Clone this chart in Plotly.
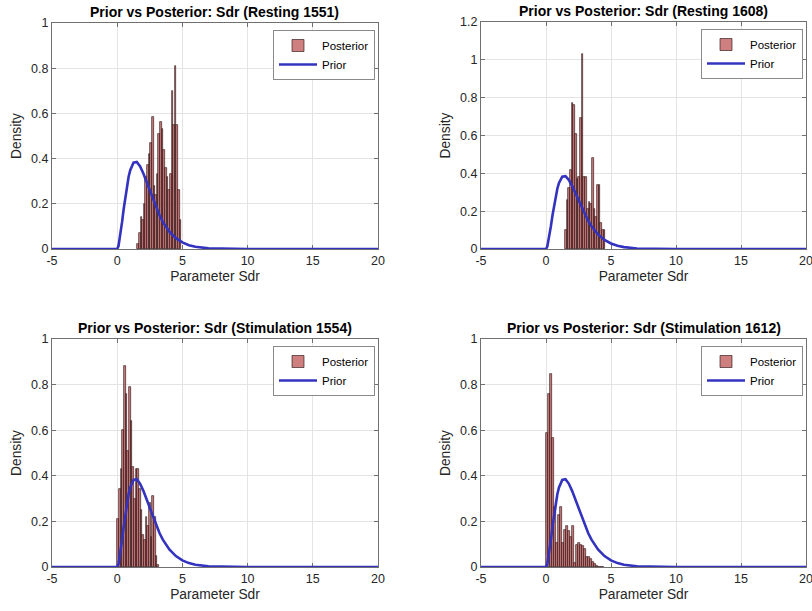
import plotly.graph_objects as go

# ---------------- data ----------------
titles = ["Prior vs Posterior: Sdr (Resting 1551)",
          "Prior vs Posterior: Sdr (Resting 1608)",
          "Prior vs Posterior: Sdr (Stimulation 1554)",
          "Prior vs Posterior: Sdr (Stimulation 1612)"]

# posterior histograms: first bin edge, bin width, bin heights (density)
p1_start, p1_width = 1.54, 0.125
p1_heights = [0.02, 0.07, 0.14, 0.13, 0.20, 0.32, 0.37, 0.42, 0.47, 0.585, 0.28, 0.24, 0.33, 0.51,
              0.56, 0.53, 0.44, 0.36, 0.32, 0.26, 0.33, 0.70, 0.55, 0.81, 0.55, 0.26, 0.13]

p2_start, p2_width = 1.45, 0.13
p2_heights = [0.10, 0.26, 0.32, 0.42, 0.77, 0.76, 0.61, 0.37, 0.38, 0.69, 1.03, 0.38, 0.38, 0.21,
              0.25, 0.24, 0.48, 0.21, 0.17, 0.34, 0.34, 0.14, 0.10, 0.10]

p3_start, p3_width = 0.0, 0.128
p3_heights = [0.21, 0.34, 0.43, 0.60, 0.88, 0.76, 0.51, 0.79, 0.64, 0.44, 0.30, 0.43, 0.43, 0.34,
              0.25, 0.14, 0.12, 0.22, 0.18, 0.28, 0.13, 0.31, 0.22, 0.05, 0.01]

p4_start, p4_width = 0.0, 0.154
p4_heights = [0.586, 0.76, 0.846, 0.565, 0.265, 0.107, 0.228, 0.265, 0.104, 0.162, 0.18, 0.158,
              0.133, 0.18, 0.016, 0.096, 0.104, 0.096, 0.092, 0.08, 0.045, 0.045, 0.035, 0.022,
              0.013, 0.004, 0.002, 0.001, 0.001]

# prior density curve (same in every panel)
prior_x = [-5, 0, 0.1, 0.25, 0.375, 0.5, 0.625, 0.75, 0.875, 1, 1.25, 1.5, 1.75, 2, 2.25, 2.5,
           2.75, 3, 3.25, 3.5, 4, 4.5, 5, 5.5, 6, 7, 8, 10, 20]
prior_y = [0, 0, 0.013, 0.064, 0.120, 0.178, 0.233, 0.281, 0.320, 0.349, 0.382, 0.385, 0.366,
           0.335, 0.297, 0.256, 0.217, 0.180, 0.148, 0.120, 0.077, 0.048, 0.029, 0.017, 0.010,
           0.003, 0.001, 0.0001, 0]

x_ticks = [-5, 0, 5, 10, 15, 20]
y_tops = [1.0, 1.2, 1.0, 1.0]

hists = [(p1_start, p1_width, p1_heights), (p2_start, p2_width, p2_heights),
         (p3_start, p3_width, p3_heights), (p4_start, p4_width, p4_heights)]

# ---------------- layout geometry ----------------
W, H = 812, 611
boxes = [(52, 378, 23, 249), (481, 806, 22, 249), (52, 378, 339, 567), (481, 806, 339, 567)]

FONT = "Liberation Sans, Arial, Helvetica, sans-serif"
TXT = "#262626"
AXC = "#707070"
GRID = "#e4e4e4"

fig = go.Figure()
annotations = []
layout = dict(
    width=W, height=H, margin=dict(l=0, r=0, t=0, b=0, autoexpand=False),
    paper_bgcolor="white", plot_bgcolor="white",
    font=dict(family=FONT, color=TXT, size=12.5),
    barmode="overlay", bargap=0, showlegend=True,
)

for i, ((start, width, heights), (l, r, t, b)) in enumerate(zip(hists, boxes)):
    k = "" if i == 0 else str(i + 1)
    xa, ya = "x" + k, "y" + k
    leg = "legend" + k
    fig.add_trace(go.Bar(
        x0=start + width / 2, dx=width, y=heights, width=width,
        xaxis=xa, yaxis=ya, name="Posterior", legend=leg,
        marker=dict(color="rgba(198,104,104,0.85)",
                    line=dict(color="rgba(40,16,16,0.9)", width=0.7)),
    ))
    fig.add_trace(go.Scatter(
        x=prior_x, y=prior_y, mode="lines", xaxis=xa, yaxis=ya,
        name="Prior", legend=leg, cliponaxis=False,
        line=dict(color="#3333bf", width=2.6),
    ))
    ytick = [round(0.2 * j, 1) for j in range(int(round(y_tops[i] / 0.2)) + 1)]
    layout["xaxis" + k] = dict(
        domain=[l / W, r / W], anchor=ya, range=[-5, 20], automargin=False,
        tickvals=x_ticks, ticktext=[str(v) for v in x_ticks], ticklabeloverflow="allow",
        showline=True, linecolor=AXC, linewidth=1, mirror="ticks",
        ticks="inside", ticklen=4, tickcolor=AXC, tickwidth=1,
        showgrid=True, gridcolor=GRID, gridwidth=1, zeroline=False,
        tickfont=dict(size=12.5, color=TXT), layer="below traces",
        title=dict(text="Parameter Sdr", font=dict(size=13.8, color=TXT), standoff=4),
    )
    layout["yaxis" + k] = dict(
        domain=[1 - b / H, 1 - t / H], anchor=xa, range=[0, y_tops[i]], automargin=False,
        tickvals=ytick, ticktext=[("%g" % v) for v in ytick], ticklabeloverflow="allow",
        showline=True, linecolor=AXC, linewidth=1, mirror="ticks",
        ticks="inside", ticklen=4, tickcolor=AXC, tickwidth=1,
        showgrid=True, gridcolor=GRID, gridwidth=1, zeroline=False,
        tickfont=dict(size=12.5, color=TXT), layer="below traces",
        title=dict(text="Density", font=dict(size=13.8, color=TXT), standoff=6),
    )
    layout[leg] = dict(
        x=(r - 3) / W, y=1 - (t + 7) / H, xanchor="right", yanchor="top",
        bgcolor="white", bordercolor="#8a8a8a", borderwidth=1,
        font=dict(size=11.5, color="black"), tracegroupgap=0, itemwidth=38,
    )
    annotations.append(dict(
        text="<b>%s</b>" % titles[i], x=(l + r) / 2 / W, y=1 - t / H,
        xref="paper", yref="paper", xanchor="center", yanchor="bottom",
        showarrow=False, yshift=1, font=dict(size=14, color="black"),
    ))

layout["annotations"] = annotations
fig.update_layout(**layout)
fig.write_html("out.html")
